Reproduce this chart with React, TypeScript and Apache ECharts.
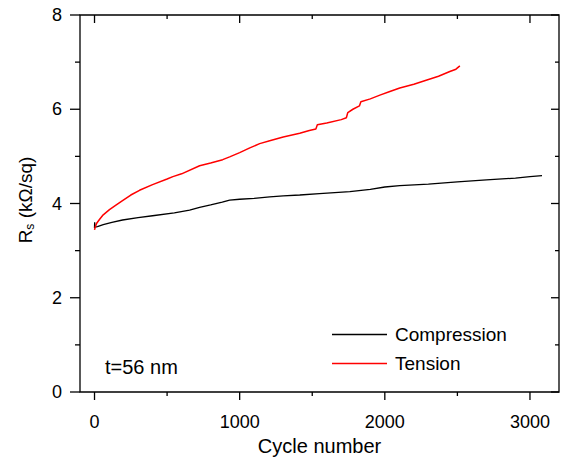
import React, { useEffect, useRef } from "react";
import * as echarts from "echarts";

const compression: [number, number][] = [
  [0, 3.48], [1, 3.6], [4, 3.5], [20, 3.51], [60, 3.55], [120, 3.6], [193, 3.65],
  [300, 3.7], [400, 3.74], [550, 3.8], [655, 3.86], [724, 3.92], [800, 3.97],
  [880, 4.03], [931, 4.07], [1000, 4.09], [1100, 4.11], [1207, 4.14], [1300, 4.16],
  [1414, 4.18], [1550, 4.21], [1759, 4.25], [1900, 4.3], [2000, 4.35], [2103, 4.38],
  [2300, 4.41], [2500, 4.46], [2700, 4.5], [2900, 4.54], [3000, 4.57], [3083, 4.59],
];

const tension: [number, number][] = [
  [0, 3.44], [5, 3.5], [15, 3.58], [34, 3.66], [60, 3.76], [103, 3.87], [150, 3.97],
  [193, 4.06], [250, 4.18], [310, 4.28], [400, 4.4], [500, 4.52], [540, 4.57],
  [600, 4.63], [724, 4.8], [800, 4.86], [883, 4.93], [931, 4.99], [1000, 5.08],
  [1070, 5.18], [1138, 5.27], [1207, 5.33], [1300, 5.41], [1414, 5.49], [1480, 5.55],
  [1525, 5.58], [1535, 5.67], [1600, 5.71], [1700, 5.78], [1735, 5.82], [1745, 5.93],
  [1780, 6.0], [1825, 6.07], [1835, 6.16], [1900, 6.22], [1966, 6.3], [2030, 6.37],
  [2103, 6.45], [2200, 6.53], [2290, 6.62], [2370, 6.7], [2448, 6.8], [2490, 6.85],
  [2517, 6.92],
];

const xLabelTicks = [0, 1000, 2000, 3000];
const xMinorTickValues = [500, 1500, 2500];
const yLabelTicks = [0, 2, 4, 6, 8];
const yMinorTickValues = [1, 3, 5, 7];
const seriesNames = ["Compression", "Tension"];
const annotation = "t=56 nm";

const X_MIN = -100;
const X_MAX = 3200;
const Y_MIN = 0;
const Y_MAX = 8;

const FONT = "'Liberation Sans', Arial, sans-serif";

export default function App() {
  const ref = useRef<HTMLDivElement>(null);
  useEffect(() => {
    if (!ref.current) return;
    const chart = echarts.init(ref.current, undefined, { renderer: "svg" });
    const tickStyle = { stroke: "#000", lineWidth: 1.3 };
    const xTickData = [
      ...xLabelTicks.map((v) => [v, Y_MIN, 1]),
      ...xMinorTickValues.map((v) => [v, Y_MIN, 0]),
    ];
    const yTickData = [
      ...yLabelTicks.map((v) => [X_MIN, v, 1]),
      ...yMinorTickValues.map((v) => [X_MIN, v, 0]),
    ];
    chart.setOption({
      animation: false,
      backgroundColor: "#fff",
      grid: {
        left: 80, right: 4, top: 15, bottom: 69,
        show: true, borderColor: "#000", borderWidth: 1.3, backgroundColor: "transparent",
      },
      xAxis: {
        type: "value",
        min: X_MIN,
        max: X_MAX,
        name: "Cycle number",
        nameLocation: "middle",
        nameGap: 44,
        nameTextStyle: { fontFamily: FONT, fontSize: 20, color: "#000" },
        axisLine: { show: false },
        axisTick: { show: false },
        axisLabel: {
          show: true, customValues: xLabelTicks, margin: 21,
          fontFamily: FONT, fontSize: 18, color: "#000",
          formatter: (v: number) => String(v),
        },
        splitLine: { show: false },
      },
      yAxis: {
        type: "value",
        min: Y_MIN,
        max: Y_MAX,
        interval: 2,
        axisLine: { show: false },
        axisTick: { show: false },
        axisLabel: { show: true, margin: 18, fontFamily: FONT, fontSize: 18, color: "#000" },
        splitLine: { show: false },
      },
      legend: {
        orient: "vertical",
        left: 332,
        top: 325,
        padding: 0,
        itemWidth: 55,
        itemHeight: 1.5,
        itemGap: 10,
        icon: "rect",
        data: seriesNames,
        textStyle: { fontFamily: FONT, fontSize: 19, color: "#000", padding: [0, 0, 0, 3] },
      },
      graphic: [
        {
          type: "text",
          left: 105,
          top: 357,
          style: { text: annotation, fontFamily: FONT, fontSize: 20, fill: "#000" },
        },
        {
          type: "text",
          x: 25,
          y: 200,
          rotation: Math.PI / 2,
          style: {
            text: "{a|R}{b|s}{a| (kΩ/sq)}",
            align: "center",
            verticalAlign: "middle",
            rich: {
              a: { fontFamily: FONT, fontSize: 19, fill: "#000", lineHeight: 22 },
              b: { fontFamily: FONT, fontSize: 12, fill: "#000", lineHeight: 22, padding: [10, 0, 0, 0] },
            },
          },
        },
      ],
      series: [
        {
          name: seriesNames[0],
          type: "line",
          data: compression,
          symbol: "none",
          lineStyle: { color: "#000", width: 1.3 },
          itemStyle: { color: "#000" },
        },
        {
          name: seriesNames[1],
          type: "line",
          data: tension,
          symbol: "none",
          lineStyle: { color: "#ff0000", width: 1.5 },
          itemStyle: { color: "#ff0000" },
        },
        {
          name: "xTicks",
          type: "custom",
          silent: true,
          clip: false,
          z: 5,
          dimensions: ["x", "y", "major"],
          encode: { x: 0, y: 1 },
          data: xTickData,
          renderItem: (_p: any, api: any) => {
            const v = api.value(0);
            const major = api.value(2) === 1;
            const b = api.coord([v, Y_MIN]);
            const t = api.coord([v, Y_MAX]);
            const len = major ? 8 : 4;
            return {
              type: "group",
              children: [
                { type: "line", shape: { x1: b[0], y1: b[1], x2: b[0], y2: b[1] + len }, style: tickStyle },
                { type: "line", shape: { x1: t[0], y1: t[1], x2: t[0], y2: t[1] + len }, style: tickStyle },
              ],
            };
          },
        },
        {
          name: "yTicks",
          type: "custom",
          silent: true,
          clip: false,
          z: 5,
          dimensions: ["x", "y", "major"],
          encode: { x: 0, y: 1 },
          data: yTickData,
          renderItem: (_p: any, api: any) => {
            const v = api.value(1);
            const major = api.value(2) === 1;
            const l = api.coord([X_MIN, v]);
            const r = api.coord([X_MAX, v]);
            const lenL = major ? 10 : 5;
            const lenR = major ? 8 : 4;
            return {
              type: "group",
              children: [
                { type: "line", shape: { x1: l[0] - lenL, y1: l[1], x2: l[0], y2: l[1] }, style: tickStyle },
                { type: "line", shape: { x1: r[0] - lenR, y1: r[1], x2: r[0], y2: r[1] }, style: tickStyle },
              ],
            };
          },
        },
      ],
    });
    return () => chart.dispose();
  }, []);
  return (
    <div
      ref={ref}
      style={{ position: "fixed", left: 0, top: 0, width: 563, height: 461, background: "#fff" }}
    />
  );
}
